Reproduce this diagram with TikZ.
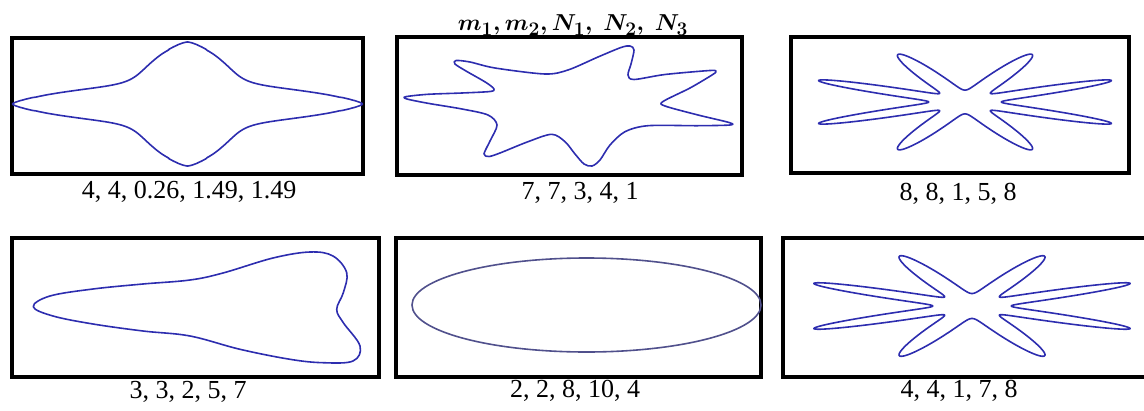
\documentclass[tikz,border=0pt]{standalone}
\usepackage{fontspec}
\setmainfont{Liberation Serif}
\definecolor{curveblue}{RGB}{45,45,175}
\definecolor{ovalblue}{RGB}{80,80,140}
\begin{document}
\begin{tikzpicture}[x=0.75pt,y=-0.75pt,
  panelbox/.style={draw=black, line width=2.3pt},
  curveline/.style={draw=curveblue, line width=1.2pt, line join=round},
  caplabel/.style={anchor=base, inner sep=0pt, font=\fontsize{19.5}{22}\selectfont},
  headlabel/.style={anchor=base, inner sep=0pt, font=\fontsize{19}{21}\selectfont\boldmath},
  declare function={sfr(\angl,\mmm,\nnA,\nnB,\nnC)=(abs(cos(\mmm*\angl/4))^\nnB+abs(sin(\mmm*\angl/4))^\nnC)^(-1/\nnA);}]
\useasboundingbox (0,0) rectangle (1144,410);
% heading
\node[headlabel] (head) at (573,31) {$m_1, m_2, N_1,\ N_2,\ N_3$};
% top row
\draw[panelbox] (12,38) rectangle (363,174);
\draw[curveline] plot[domain=0.25:359.75, samples=720, smooth cycle]
  ({187.5+175*sfr(\x,4,0.26,1.49,1.49)*cos(\x)},{104-62*sfr(\x,4,0.26,1.49,1.49)*sin(\x)});
\node[caplabel] (lab1) at (189,198) {4, 4, 0.26, 1.49, 1.49};

\draw[panelbox] (397,37) rectangle (742,175);
\draw[curveline] plot[smooth cycle, tension=0.5] coordinates {
  (405.7,96.7) (428,94.3) (462,93) (490,91.5) (494,89) (486,82.5) (466,71) (455,64) (456,60.5)
  (470,62) (495,68) (545,74) (568,70) (598,57) (621,47.5) (630,46) (634,50) (631,64) (628,75) (634,79.5)
  (665,74.5) (710,70.5) (716,71.5) (712,75) (690,88) (663,101.5) (665,106) (698,115) (729,122.5) (730,125)
  (698,125.7) (648,125.7) (625,131.7) (610,145) (600,160) (592,166) (584,164) (575,154) (565,141.7)
  (551.7,134.3) (528,141.7) (500,153) (489,156.5) (484,154) (490,141) (497,125) (488,115)
  (462,109) (428,103.3) (407,99)};
\node[caplabel] (lab2) at (580,199) {7, 7, 3, 4, 1};

\draw[panelbox] (791,37) rectangle (1129,173);
\draw[curveline] plot[domain=0.25:359.75, samples=720, smooth cycle]
  ({965+36.4*sfr(\x,8,1,5,8)*cos(\x)},{102-11.9*sfr(\x,8,1,5,8)*sin(\x)});
\node[caplabel] (lab3) at (958,200) {8, 8, 1, 5, 8};
% bottom row
\draw[panelbox] (12,238) rectangle (379,377);
\draw[curveline] plot[smooth cycle, tension=0.6] coordinates {
  (33.3,306.7) (50,296) (93,289) (143,284) (190,280) (223,273) (273,258) (310,252)
  (333,256) (346.7,272.7) (343.3,292.7) (336.7,309.3) (343.3,322.7) (360,346) (353,361)
  (323,362.7) (290,359.3) (240,349.3) (190,336) (143,331) (93,324) (53,316)};
\node[caplabel] (lab4) at (188,398) {3, 3, 2, 5, 7};

\draw[panelbox] (396,238) rectangle (761,377);
\draw[curveline, draw=ovalblue] (586.5,305) ellipse [x radius=174.5, y radius=47];
\node[caplabel] (lab5) at (575,397) {2, 2, 8, 10, 4};

\draw[panelbox] (783,238) rectangle (1148,377);
\draw[curveline] plot[domain=0.25:359.75, samples=720, smooth cycle]
  ({972+39.3*sfr(\x,8,1,5,8)*cos(\x)},{306-12.5*sfr(\x,8,1,5,8)*sin(\x)});
\node[caplabel] (lab6) at (959,397) {4, 4, 1, 7, 8};
\end{tikzpicture}
\end{document}
